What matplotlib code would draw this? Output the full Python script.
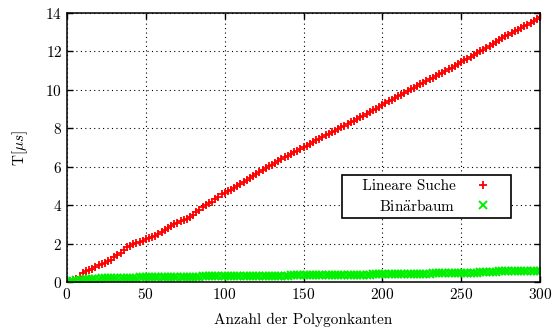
import numpy as np
import matplotlib
matplotlib.use('Agg')
import matplotlib.pyplot as plt

plt.rcParams['font.family'] = ['cmr10', 'DejaVu Serif']
plt.rcParams['mathtext.fontset'] = 'cm'
plt.rcParams['axes.formatter.use_mathtext'] = True

# number of polygon edges, sampled every 2
kanten = np.arange(2, 301, 2)

linear = [0.04, 0.10, 0.14, 0.26, 0.45, 0.55, 0.62, 0.70, 0.78, 0.86,
          0.95, 1.00, 1.10, 1.16, 1.28, 1.40, 1.52, 1.68, 1.80, 1.88,
          1.96, 2.02, 2.08, 2.12, 2.22, 2.28, 2.34, 2.42, 2.52, 2.60,
          2.70, 2.80, 2.90, 3.00, 3.08, 3.16, 3.22, 3.28, 3.36, 3.48,
          3.62, 3.76, 3.90, 4.00, 4.10, 4.18, 4.30, 4.42, 4.56, 4.64,
          4.72, 4.80, 4.90, 5.00, 5.10, 5.22, 5.32, 5.42, 5.54, 5.64,
          5.74, 5.84, 5.92, 6.02, 6.10, 6.20, 6.28, 6.38, 6.48, 6.56,
          6.66, 6.74, 6.82, 6.92, 7.02, 7.10, 7.20, 7.28, 7.38, 7.46,
          7.56, 7.64, 7.72, 7.80, 7.88, 7.98, 8.06, 8.14, 8.24, 8.32,
          8.40, 8.50, 8.58, 8.66, 8.76, 8.84, 8.94, 9.02, 9.12, 9.20,
          9.30, 9.40, 9.48, 9.56, 9.66, 9.74, 9.84, 9.92, 10.02, 10.10,
          10.18, 10.28, 10.38, 10.46, 10.56, 10.64, 10.72, 10.82, 10.90, 10.98,
          11.08, 11.16, 11.26, 11.36, 11.44, 11.54, 11.62, 11.72, 11.80, 11.90,
          12.00, 12.08, 12.18, 12.28, 12.40, 12.50, 12.60, 12.70, 12.80, 12.88,
          12.96, 13.04, 13.12, 13.22, 13.32, 13.40, 13.50, 13.60, 13.70, 13.80]

binaer = [0.04, 0.07, 0.10, 0.12, 0.13, 0.15, 0.16, 0.17, 0.18, 0.18,
          0.19, 0.19, 0.20, 0.20, 0.21, 0.21, 0.22, 0.22, 0.22, 0.23,
          0.23, 0.23, 0.24, 0.24, 0.24, 0.25, 0.25, 0.25, 0.25, 0.26,
          0.26, 0.26, 0.26, 0.27, 0.27, 0.27, 0.27, 0.28, 0.28, 0.28,
          0.28, 0.28, 0.29, 0.29, 0.29, 0.29, 0.30, 0.30, 0.30, 0.30,
          0.30, 0.30, 0.31, 0.31, 0.31, 0.31, 0.31, 0.31, 0.32, 0.32,
          0.32, 0.32, 0.32, 0.32, 0.33, 0.33, 0.33, 0.33, 0.33, 0.33,
          0.34, 0.34, 0.34, 0.34, 0.34, 0.35, 0.35, 0.35, 0.35, 0.35,
          0.36, 0.36, 0.36, 0.36, 0.37, 0.37, 0.37, 0.37, 0.38, 0.38,
          0.38, 0.38, 0.39, 0.39, 0.39, 0.39, 0.40, 0.40, 0.40, 0.40,
          0.41, 0.41, 0.41, 0.41, 0.42, 0.42, 0.42, 0.43, 0.43, 0.43,
          0.43, 0.44, 0.44, 0.44, 0.44, 0.45, 0.45, 0.45, 0.45, 0.46,
          0.46, 0.46, 0.47, 0.47, 0.47, 0.48, 0.48, 0.48, 0.49, 0.49,
          0.50, 0.53, 0.54, 0.54, 0.54, 0.54, 0.55, 0.55, 0.55, 0.55,
          0.55, 0.56, 0.56, 0.56, 0.56, 0.56, 0.57, 0.57, 0.57, 0.57]

fig = plt.figure(figsize=(5.53, 3.28), dpi=100)
ax = fig.add_axes([67/553, 1 - 282/328, 473/553, 269/328])

ax.plot(kanten, linear, '+', color='#ff0000', ms=6, mew=1.3, label='   Lineare Suche')
ax.plot(kanten, binaer, 'x', color='#00f000', ms=5.5, mew=1.4,
        label=r'Bin$\ddot{\mathrm{a}}$rbaum')

ax.set_xlim(0, 300)
ax.set_ylim(0, 14)
ax.set_xticks(range(0, 301, 50))
ax.set_yticks(range(0, 15, 2))
ax.grid(True, color='black', linestyle=(0, (1, 3)), linewidth=0.8)
ax.tick_params(direction='in', top=True, right=True, length=4, width=1, labelsize=11)
for s in ax.spines.values():
    s.set_linewidth(1.1)
ax.set_axisbelow(True)

ax.set_xlabel('Anzahl der Polygonkanten', fontsize=11, labelpad=8)
ax.set_ylabel(r'T[$\mu s$]', fontsize=11, labelpad=11)

leg = ax.legend(loc='center', bbox_to_anchor=(0.76, 0.318), markerfirst=False,
                numpoints=1, fancybox=False, framealpha=1, edgecolor='black',
                fontsize=11, handlelength=3.0, borderpad=0.3, labelspacing=0.3,
                handletextpad=0.33, borderaxespad=0)
leg.get_frame().set_linewidth(1.2)

fig.savefig('out.png', dpi=100)
